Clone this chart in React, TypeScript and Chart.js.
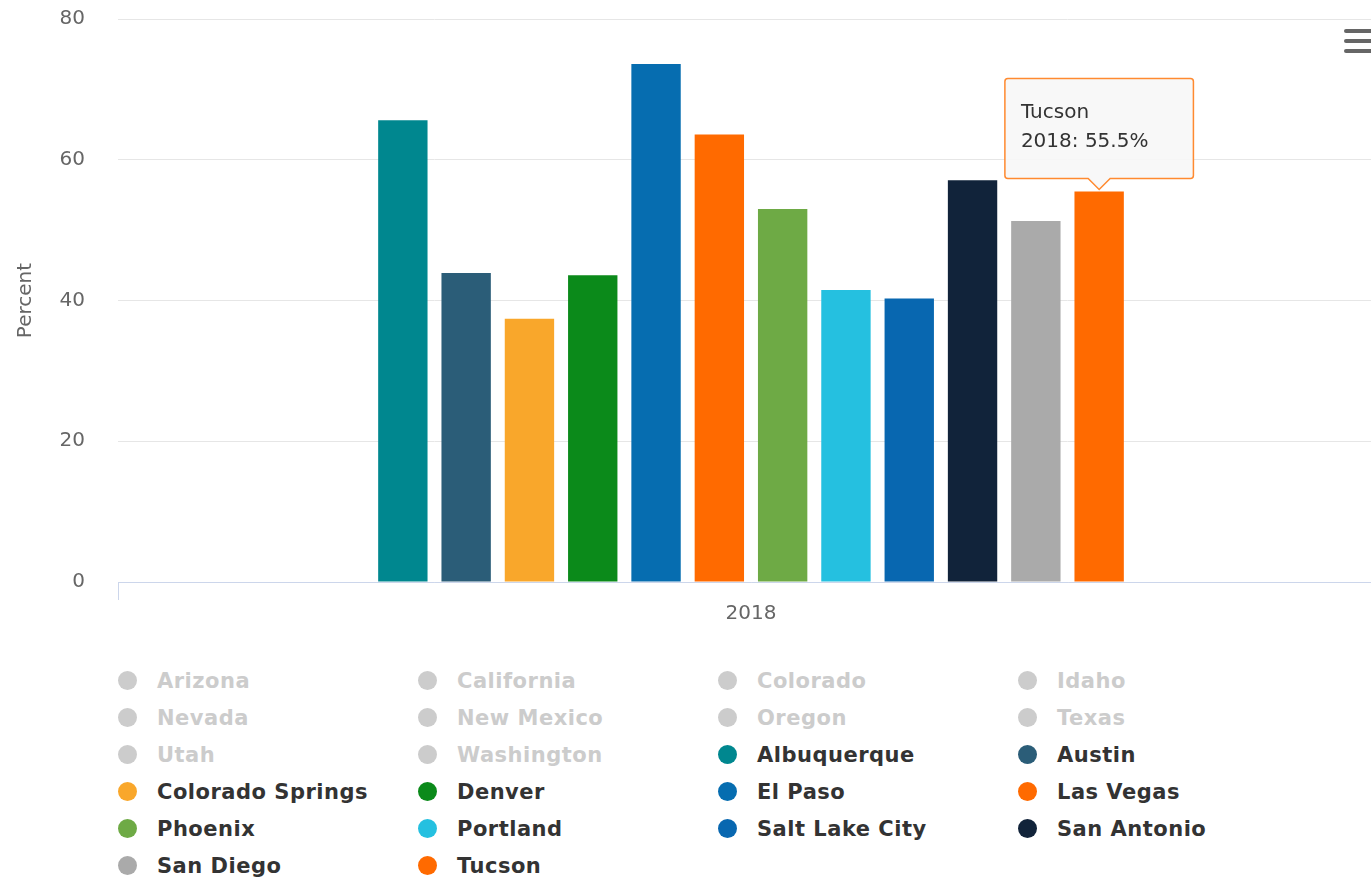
import React, { useEffect, useRef } from "react";
import { Chart, registerables } from "chart.js";

Chart.register(...registerables);

const categories = ["2018"];

const hiddenSeries = [
  "Arizona", "California", "Colorado", "Idaho", "Nevada",
  "New Mexico", "Oregon", "Texas", "Utah", "Washington",
];

const citySeries = [
  "Albuquerque", "Austin", "Colorado Springs", "Denver", "El Paso", "Las Vegas",
  "Phoenix", "Portland", "Salt Lake City", "San Antonio", "San Diego", "Tucson",
];

const cityValues = [65.6, 43.9, 37.4, 43.6, 73.6, 63.6, 53.0, 41.5, 40.3, 57.1, 51.3, 55.5];

const cityColors = [
  "#00878f", "#2b5d78", "#f9a72b", "#0b8a1a", "#066db0", "#ff6a00",
  "#6eaa45", "#25c0e0", "#0867b0", "#11233a", "#aaaaaa", "#ff6a00",
];

const yTicks = [0, 20, 40, 60, 80];

const FONT = "'DejaVu Sans', sans-serif";

export default function App() {
  const canvasRef = useRef<HTMLCanvasElement | null>(null);

  useEffect(() => {
    const canvas = canvasRef.current;
    if (!canvas) return;

    const datasets: any[] = [
      ...hiddenSeries.map((name) => ({
        label: name,
        data: [null],
        backgroundColor: "#cccccc",
        hidden: true,
      })),
      ...citySeries.map((name, i) => ({
        label: name,
        data: [cityValues[i]],
        backgroundColor: cityColors[i],
        borderWidth: 0,
        categoryPercentage: 0.6,
        barPercentage: 0.78,
      })),
    ];

    const chart = new Chart(canvas, {
      type: "bar",
      data: { labels: categories, datasets },
      options: {
        responsive: false,
        animation: false,
        events: [],
        layout: { padding: { top: 19, left: 0, right: 0, bottom: 0 } },
        plugins: {
          legend: { display: false },
          title: { display: false },
          tooltip: {
            enabled: true,
            backgroundColor: "rgba(247,247,247,0.92)",
            borderColor: "#ff8a30",
            borderWidth: 1.5,
            cornerRadius: 3,
            titleColor: "#333333",
            bodyColor: "#333333",
            titleFont: { family: FONT, size: 20, weight: "normal" },
            bodyFont: { family: FONT, size: 20, weight: "normal" },
            titleMarginBottom: 5,
            displayColors: false,
            caretSize: 11,
            caretPadding: 2,
            xAlign: "center",
            yAlign: "bottom",
            padding: { top: 22, bottom: 25, left: 16, right: 45 },
            callbacks: {
              title: (items: any[]) => items[0].dataset.label,
              label: (item: any) => `${item.label}: ${item.parsed.y}%`,
            },
          },
        },
        scales: {
          x: {
            offset: true,
            grid: {
              display: true,
              offset: true,
              drawOnChartArea: false,
              drawTicks: true,
              tickLength: 18,
              color: "#ccd6eb",
            },
            border: { display: true, color: "#ccd6eb", width: 1 },
            ticks: {
              color: "#666666",
              font: { family: FONT, size: 20 },
              padding: 2,
            },
            afterFit: (scale: any) => {
              scale.height = 58;
            },
          },
          y: {
            min: 0,
            max: 80,
            afterBuildTicks: (scale: any) => {
              scale.ticks = yTicks.map((v) => ({ value: v }));
            },
            grid: {
              color: "#e6e6e6",
              lineWidth: 1,
              drawTicks: true,
              tickLength: 33,
              tickColor: "rgba(0,0,0,0)",
            },
            border: { display: false },
            ticks: {
              color: "#666666",
              font: { family: FONT, size: 20 },
              padding: 0,
            },
            title: {
              display: true,
              text: "Percent",
              color: "#666666",
              font: { family: FONT, size: 20 },
              padding: { top: 14, bottom: 0 },
            },
            afterFit: (scale: any) => {
              scale.width = 118;
            },
          },
        },
      },
    });

    const idx = datasets.length - 1;
    const el: any = chart.getDatasetMeta(idx).data[0];
    if (el) {
      chart.tooltip?.setActiveElements([{ datasetIndex: idx, index: 0 }], { x: el.x, y: el.y });
      chart.update();
    }

    return () => chart.destroy();
  }, []);

  const legendItems = [
    ...hiddenSeries.map((name) => ({ name, color: "#cccccc", hidden: true })),
    ...citySeries.map((name, i) => ({ name, color: cityColors[i], hidden: false })),
  ];

  return (
    <div
      style={{
        position: "fixed",
        left: 0,
        top: 0,
        width: 1371,
        height: 879,
        overflow: "hidden",
        background: "#ffffff",
      }}
    >
      <canvas
        ref={canvasRef}
        width={1384}
        height={640}
        style={{ position: "absolute", left: 0, top: 0, width: 1384, height: 640 }}
      />
      {/* context menu icon */}
      {[29, 39, 49].map((t) => (
        <div
          key={t}
          style={{
            position: "absolute",
            left: 1344,
            top: t,
            width: 40,
            height: 4,
            borderRadius: 2,
            background: "#666666",
          }}
        />
      ))}
      <div
        style={{
          position: "absolute",
          left: 118,
          top: 662,
          width: 1200,
          display: "grid",
          gridTemplateColumns: "300px 300px 300px 300px",
          gridAutoRows: "37px",
          fontFamily: FONT,
          fontWeight: "bold",
          fontSize: 21,
          letterSpacing: "0.5px",
        }}
      >
        {legendItems.map((it) => (
          <div
            key={it.name}
            style={{ display: "flex", alignItems: "center", whiteSpace: "nowrap" }}
          >
            <span
              style={{
                display: "inline-block",
                width: 19,
                height: 19,
                borderRadius: "50%",
                background: it.color,
                marginRight: 20,
              }}
            />
            <span style={{ color: it.hidden ? "#cccccc" : "#333333" }}>{it.name}</span>
          </div>
        ))}
      </div>
    </div>
  );
}
